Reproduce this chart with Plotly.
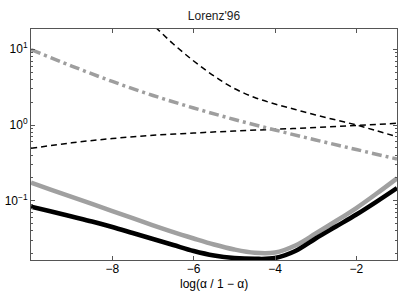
import plotly.graph_objects as go

# ---- data (log10 values) ----
x_main = [-10, -9.5, -9, -8.5, -8, -7.5, -7, -6.5, -6, -5.5, -5, -4.5, -4, -3.5,
          -3, -2.5, -2, -1.5, -1]
black_log = [-1.0793, -1.1427, -1.2087, -1.2748, -1.3474, -1.4267, -1.5059, -1.5852,
             -1.6645, -1.7239, -1.7569, -1.7675, -1.7569, -1.6645, -1.4993, -1.3408,
             -1.1823, -1.0106, -0.8322]
gray_log = [-0.7622, -0.8560, -0.9485, -1.0423, -1.1361, -1.2312, -1.3250, -1.4161,
            -1.4993, -1.5786, -1.6446, -1.6882, -1.6843, -1.5918, -1.4333, -1.2682,
            -1.0964, -0.9049, -0.7041]

x_dd = [-10, -9, -8, -7, -6, -5, -4, -3, -2, -1]
dashdot_log = [0.997, 0.779, 0.575, 0.390, 0.225, 0.073, -0.066, -0.198, -0.324, -0.449]
dash_low_log = [-0.3078, -0.2351, -0.1783, -0.1361, -0.1057, -0.0793, -0.0568,
                -0.0330, -0.0066, 0.0225]

x_up = [-7.5, -7, -6.5, -6, -5.5, -5, -4.5, -4, -3.5, -3, -2.5, -2, -1.5, -1]
dash_up_log = [1.5456, 1.3210, 1.0700, 0.8454, 0.6473, 0.4822, 0.3633, 0.2774,
               0.2048, 0.1321, 0.0661, 0.0, -0.0766, -0.1546]

x_ticks = [-8, -6, -4, -2]
x_ticktext = ["\u22128", "\u22126", "\u22124", "\u22122"]
y_ticks = [0.1, 1, 10]
y_ticktext = ["10<sup>\u22121</sup>", "10<sup>0</sup>", "10<sup>1</sup>"]

title_text = "Lorenz'96"
x_title = "log(\u03b1 / 1 \u2212 \u03b1)"


def pw(vals):
    return [10 ** v for v in vals]


fig = go.Figure()
fig.add_trace(go.Scatter(x=x_dd, y=pw(dash_low_log), mode="lines", line_shape="spline",
                         line=dict(color="black", width=1.5, dash="6px,4px")))
fig.add_trace(go.Scatter(x=x_up, y=pw(dash_up_log), mode="lines", line_shape="spline",
                         line=dict(color="black", width=1.5, dash="6px,4px")))
fig.add_trace(go.Scatter(x=x_dd, y=pw(dashdot_log), mode="lines", line_shape="spline",
                         line=dict(color="#9e9e9e", width=3.5, dash="10px,4px,3px,4px")))
fig.add_trace(go.Scatter(x=x_main, y=pw(gray_log), mode="lines", line_shape="spline",
                         line=dict(color="#a0a0a0", width=4.5)))
fig.add_trace(go.Scatter(x=x_main, y=pw(black_log), mode="lines", line_shape="spline",
                         line=dict(color="black", width=4.5)))

axis_col = "#555555"
fig.update_layout(
    width=403, height=299,
    margin=dict(l=31, r=6, t=29, b=39, autoexpand=False),
    paper_bgcolor="white", plot_bgcolor="white",
    showlegend=False,
    font=dict(family="Liberation Sans, Arial, sans-serif", size=12, color="black"),
    title=dict(text=title_text, x=0.5, xref="paper", xanchor="center",
               y=1, yref="paper", yanchor="bottom", pad=dict(b=9),
               font=dict(size=12, color="#222")),
    xaxis=dict(range=[-10, -1], tickvals=x_ticks, ticktext=x_ticktext,
               ticks="inside", ticklen=4, tickcolor=axis_col, showgrid=False,
               zeroline=False, showline=True, linecolor=axis_col, linewidth=1,
               mirror="allticks", automargin=False, tickfont=dict(size=12),
               ticklabelstandoff=-2),
    yaxis=dict(type="log", range=[-1.783, 1.268], tickvals=y_ticks, ticktext=y_ticktext,
               ticks="inside", ticklen=4, tickcolor=axis_col, showgrid=False,
               zeroline=False, showline=True, linecolor=axis_col, linewidth=1,
               mirror="allticks", automargin=False, tickfont=dict(size=12),
               minor=dict(ticks="inside", ticklen=2, tickcolor=axis_col, dtick="D1",
                          showgrid=False)),
    annotations=[dict(text=x_title, xref="paper", yref="paper", x=0.5, y=0,
                      xanchor="center", yanchor="middle", yshift=-24, showarrow=False,
                      font=dict(size=12))],
)

fig.write_html("out.html", config={"displayModeBar": False},
               post_script="document.body.style.margin='0';document.body.style.padding='0';")
